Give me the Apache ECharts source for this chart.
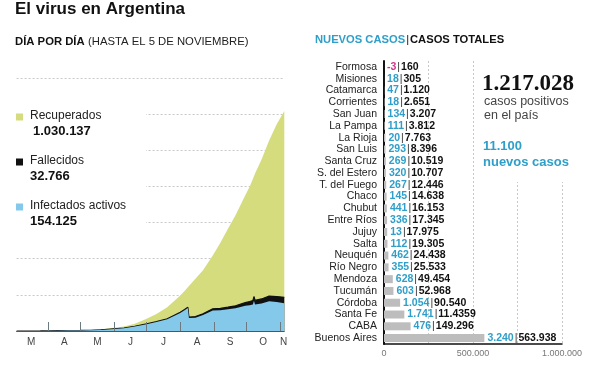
<!DOCTYPE html>
<html><head><meta charset="utf-8">
<script src="https://cdn.jsdelivr.net/npm/echarts@6/dist/echarts.min.js"></script>
<style>html,body{margin:0;padding:0;background:#fff}#c{width:600px;height:365px}</style>
</head><body><div id="c"></div>
<script>
// ---- Left chart: cumulative data ----
const dates = ['03-03','03-15','03-25','04-01','04-10','04-20','05-01','05-10','05-20','06-01','06-10','06-20','07-01','07-10','07-20','08-01','08-05','08-08','08-09','08-15','08-22','08-31','09-07','09-14','09-21','09-30','10-04','10-07','10-08','10-09','10-15','10-22','10-29','11-05'];
const totalCases = [1,56,502,1133,1975,3031,4532,6034,9283,17415,24761,39570,67197,94060,130774,196543,220682,241811,246499,289100,336802,417735,488007,565446,640147,751001,798486,840915,856369,871468,949063,1053650,1143800,1217028];
const deaths = [0,2,8,36,83,145,225,305,403,539,717,979,1351,1774,2373,3659,4192,4623,4764,5637,6848,8660,10129,11667,13482,16937,21018,22226,22710,23225,25342,27957,30442,32766];
const activeCases = [1,54,450,900,1500,2100,2800,3700,5900,11500,15500,25000,38000,50000,65000,100000,115000,127000,72000,74000,88000,114000,115000,120000,126000,140000,142000,146000,168000,147000,152000,165000,160000,154125];
const monthLetters = ['M','A','M','J','J','A','S','O','N'];
const monthStarts = ['04-01','05-01','06-01','07-01','08-01','09-01','10-01','11-01'];
const legendItems = ['Recuperados','Fallecidos','Infectados activos'];
const legendValues = ['1.030.137','32.766','154.125'];

// ---- Right chart: provinces ----
const provinces = ['Formosa','Misiones','Catamarca','Corrientes','San Juan','La Pampa','La Rioja','San Luis','Santa Cruz','S. del Estero','T. del Fuego','Chaco','Chubut','Entre Ríos','Jujuy','Salta','Neuquén','Río Negro','Mendoza','Tucumán','Córdoba','Santa Fe','CABA','Buenos Aires'];
const newCases = [-3,18,47,18,134,111,20,293,269,320,267,145,441,336,13,112,462,355,628,603,1054,1741,476,3240];
const provinceTotals = [160,305,1120,2651,3207,3812,7763,8396,10519,10707,12446,14638,16153,17345,17975,19305,24438,25533,49454,52968,90540,114359,149296,563938];
const printedTotalOverrides = {'Santa Fe':'11.4359'};
const xTickLabels = ['0','500.000','1.000.000'];

const FONT = 'Liberation Sans, Arial, sans-serif';
const BLUE_TXT = '#2f9fc9';
const GREEN = '#d5dc7e', BLUE = '#84c8ea', BLACK = '#111';

function dayIndex(s){const [m,d]=s.split('-').map(Number);return (Date.UTC(2020,m-1,d)-Date.UTC(2020,2,1))/86400000;}
function fmt(n){const s=String(Math.abs(n)).replace(/\B(?=(\d{3})+(?!\d))/g,'.');return (n<0?'-':'')+s;}

const xs = dates.map(dayIndex);
// cumulative layers: active (bottom), active+deaths, total (top)
const layerActive = xs.map((x,i)=>[x,activeCases[i]]);
const layerDeaths = xs.map((x,i)=>[x,activeCases[i]+deaths[i]]);
const layerTotal = xs.map((x,i)=>[x,totalCases[i]]);
const labelPos = [15.5,46,76.5,107,137.5,168.5,199,229.5,248.3];

const chart = echarts.init(document.getElementById('c'),null,{renderer:'canvas'});
const option = {
  animation:false,
  backgroundColor:'#fff',
  textStyle:{fontFamily:FONT},
  grid:[
    {left:16.6,top:78,width:267.7,height:253},
    {left:384,top:61,width:178,height:283}
  ],
  xAxis:[
    {type:'value',gridIndex:0,min:2,max:249,z:10,
     axisLine:{show:true,lineStyle:{color:'#555',width:1}},
     axisTick:{show:true,inside:true,length:9,lineStyle:{color:'#6a7a80',width:1},customValues:monthStarts.map(dayIndex)},
     axisLabel:{show:true,color:'#444',fontSize:10,margin:6,customValues:labelPos,
       formatter:v=>{const i=labelPos.findIndex(p=>Math.abs(p-v)<0.01);return i>=0?monthLetters[i]:'';}},
     splitLine:{show:false}},
    {type:'value',gridIndex:1,min:0,max:1000000,interval:250000,
     axisLine:{show:true,lineStyle:{color:'#111',width:1.5}},
     axisTick:{show:false},
     axisLabel:{color:'#777',fontSize:9,margin:5,
       formatter:v=>v===0?xTickLabels[0]:(v===500000?xTickLabels[1]:(v===1000000?xTickLabels[2]:''))},
     splitLine:{show:true,lineStyle:{color:'#c8c8c8',type:[2,2],width:1}}}
  ],
  yAxis:[
    {type:'value',gridIndex:0,min:0,max:1400000,interval:200000,
     axisLine:{show:false},axisTick:{show:false},axisLabel:{show:false},
     splitLine:{show:true,lineStyle:{color:'#c8c8c8',type:[2,2],width:1}}},
    {type:'category',gridIndex:1,data:provinces,inverse:true,
     axisLine:{show:true,lineStyle:{color:'#111',width:2}},
     axisTick:{show:false},
     axisLabel:{color:'#222',fontSize:10.5,margin:7,interval:0}}
  ],
  series:[
    {type:'line',xAxisIndex:0,yAxisIndex:0,symbol:'none',data:layerTotal,
     lineStyle:{width:0},areaStyle:{color:GREEN,opacity:1},z:2},
    {type:'line',xAxisIndex:0,yAxisIndex:0,symbol:'none',data:layerDeaths,
     lineStyle:{width:1.2,color:BLACK},areaStyle:{color:BLACK,opacity:1},z:3},
    {type:'line',xAxisIndex:0,yAxisIndex:0,symbol:'none',data:layerActive,
     lineStyle:{width:0},areaStyle:{color:BLUE,opacity:1},z:4},
    {type:'bar',xAxisIndex:1,yAxisIndex:1,barWidth:8,
     itemStyle:{color:'#bdbdbd'},
     data:provinceTotals,
     label:{show:true,position:'right',distance:3,
       formatter:p=>{const i=p.dataIndex;const n=newCases[i];
         const tot=printedTotalOverrides[provinces[i]]||fmt(provinceTotals[i]);
         return (n<0?'{neg|'+fmt(n)+'}':'{n|'+fmt(n)+'}')+'{s||}'+'{t|'+tot+'}';},
       rich:{
         n:{color:BLUE_TXT,fontWeight:'bold',fontSize:10.5,fontFamily:FONT},
         neg:{color:'#d4338c',fontWeight:'bold',fontSize:10.5,fontFamily:FONT},
         s:{color:'#333',fontSize:10.5,padding:[0,1,0,1],fontFamily:FONT},
         t:{color:'#111',fontWeight:'bold',fontSize:10.5,fontFamily:FONT}
       }}}
  ],
  graphic:[
    {type:'rect',z:100,shape:{x:0,y:98,width:146,height:132},style:{fill:'#fff'}},
    {type:'rect',z:100,shape:{x:479,y:52,width:121,height:130},style:{fill:'#fff'}},
    {type:'text',z:101,left:15,top:1,style:{text:'El virus en Argentina',font:'bold 17px '+FONT,fill:'#111'}},
    {type:'text',z:101,left:15,top:36,style:{text:'{b|DÍA POR DÍA} {r|(HASTA EL 5 DE NOVIEMBRE)}',
      rich:{b:{font:'bold 11.3px '+FONT,fill:'#111'},r:{font:'11.3px '+FONT,fill:'#222'}}}},
    {type:'text',z:101,left:315,top:34,style:{text:'{b|NUEVOS CASOS}{s||}{t|CASOS TOTALES}',
      rich:{b:{font:'bold 11.2px '+FONT,fill:BLUE_TXT},s:{font:'11.2px '+FONT,fill:'#111',padding:[0,1,0,1]},t:{font:'bold 11.2px '+FONT,fill:'#111'}}}},
    // legend
    {type:'rect',z:101,shape:{x:16,y:113.5,width:7,height:7},style:{fill:GREEN}},
    {type:'text',z:101,x:30,y:116,style:{text:legendItems[0],font:'12px '+FONT,fill:'#222',verticalAlign:'middle'}},
    {type:'text',z:101,x:33,y:131,style:{text:legendValues[0],font:'bold 13px '+FONT,fill:'#111',verticalAlign:'middle'}},
    {type:'rect',z:101,shape:{x:16,y:158.5,width:7,height:7},style:{fill:BLACK}},
    {type:'text',z:101,x:30,y:161,style:{text:legendItems[1],font:'12px '+FONT,fill:'#222',verticalAlign:'middle'}},
    {type:'text',z:101,x:30,y:176,style:{text:legendValues[1],font:'bold 13px '+FONT,fill:'#111',verticalAlign:'middle'}},
    {type:'rect',z:101,shape:{x:16,y:203.5,width:7,height:7},style:{fill:BLUE}},
    {type:'text',z:101,x:30,y:206,style:{text:legendItems[2],font:'12px '+FONT,fill:'#222',verticalAlign:'middle'}},
    {type:'text',z:101,x:30,y:221,style:{text:legendValues[2],font:'bold 13px '+FONT,fill:'#111',verticalAlign:'middle'}},
    // big number block
    {type:'text',z:101,x:482,y:84,style:{text:'1.217.028',font:'bold 23px Liberation Serif, serif',fill:'#111',verticalAlign:'middle'}},
    {type:'text',z:101,x:484,y:102,style:{text:'casos positivos',font:'12.5px '+FONT,fill:'#444',verticalAlign:'middle'}},
    {type:'text',z:101,x:484,y:116,style:{text:'en el país',font:'12.5px '+FONT,fill:'#444',verticalAlign:'middle'}},
    {type:'text',z:101,x:483,y:146,style:{text:'11.100',font:'bold 13px '+FONT,fill:BLUE_TXT,verticalAlign:'middle'}},
    {type:'text',z:101,x:483,y:162,style:{text:'nuevos casos',font:'bold 13px '+FONT,fill:BLUE_TXT,verticalAlign:'middle'}}
  ]
};
chart.setOption(option);
</script>
</body></html>
